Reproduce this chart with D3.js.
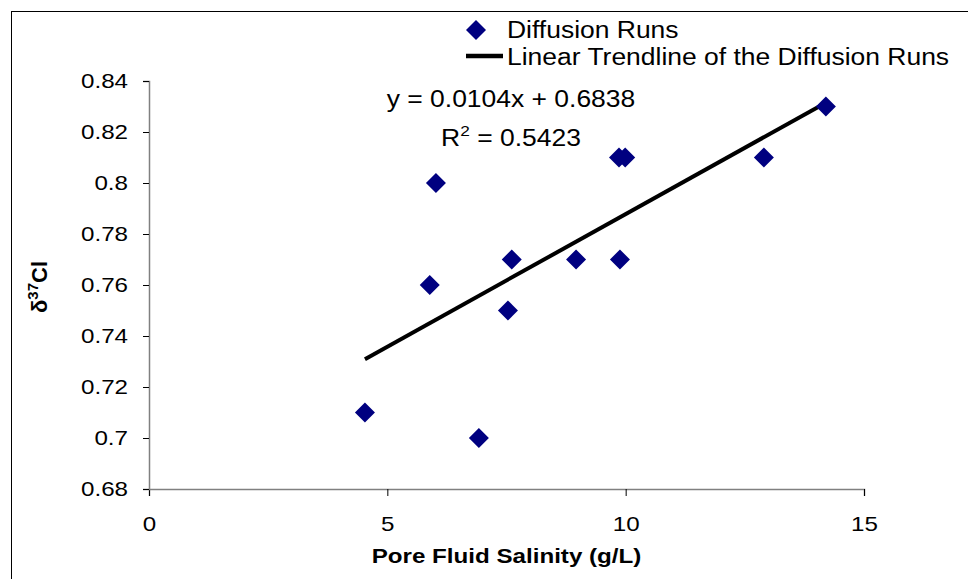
<!DOCTYPE html>
<html>
<head>
<meta charset="utf-8">
<script src="https://cdn.jsdelivr.net/npm/d3@7"></script>
<style>
  body { margin: 0; background: #fff; }
  text { font-family: "Liberation Sans", Arial, sans-serif; fill: #000; }
</style>
</head>
<body>
<div id="chart"></div>
<script>
// salinity (g/L) vs delta 37Cl, diffusion runs
const salinity = [4.53, 5.89, 6.02, 6.92, 7.53, 7.61, 8.96, 9.86, 9.99, 9.88, 12.9, 14.2];
const delta37Cl = [0.71, 0.76, 0.80, 0.70, 0.75, 0.77, 0.77, 0.81, 0.81, 0.77, 0.81, 0.83];
const xTicks = [0, 5, 10, 15];
const yTicks = [0.68, 0.70, 0.72, 0.74, 0.76, 0.78, 0.80, 0.82, 0.84];
const slope = 0.0104;
const intercept = 0.6838;
const rSquared = "0.5423";

const width = 968, height = 579;
const margin = { top: 81, right: 104, bottom: 90, left: 149 };
const stretchK = 1.15; // the original text is a bit wider than plain Arial

const svg = d3.select("#chart").append("svg")
  .attr("width", width)
  .attr("height", height);

// widen glyphs without moving the anchor point
function stretch(sel) {
  sel.each(function() {
    const w = this.getComputedTextLength();
    d3.select(this).attr("textLength", w * stretchK).attr("lengthAdjust", "spacingAndGlyphs");
  });
}

// outer frame
svg.append("rect")
  .attr("x", 11.5).attr("y", 11.5)
  .attr("width", width).attr("height", height)
  .attr("fill", "none").attr("stroke", "#000").attr("stroke-width", 1);

const x = d3.scaleLinear().domain([0, 15]).range([margin.left, width - margin.right]);
const y = d3.scaleLinear().domain([0.68, 0.84]).range([height - margin.bottom, margin.top]);

const xAxis = svg.append("g")
  .attr("transform", `translate(0, ${y(0.68)})`)
  .call(d3.axisBottom(x).tickValues(xTicks).tickSize(7).tickPadding(20).tickFormat(d3.format("d")));

const yAxis = svg.append("g")
  .attr("transform", `translate(${x(0)}, 0)`)
  .call(d3.axisLeft(y).tickValues(yTicks).tickSize(6).tickPadding(15).tickFormat(d => +d.toFixed(2)));

[xAxis, yAxis].forEach(g => {
  g.select(".domain").attr("stroke", "#808080").attr("stroke-width", 1.5);
  g.selectAll(".tick line").attr("stroke", "#000");
  g.selectAll(".tick text")
    .attr("font-size", 21)
    .attr("font-family", "Liberation Sans, Arial, sans-serif")
    .attr("fill", "#000")
    .call(stretch);
});

// trendline over the data range
const xExtent = d3.extent(salinity);
svg.append("line")
  .attr("x1", x(xExtent[0])).attr("y1", y(slope * xExtent[0] + intercept))
  .attr("x2", x(xExtent[1])).attr("y2", y(slope * xExtent[1] + intercept))
  .attr("stroke", "#000").attr("stroke-width", 4);

const diamond = d3.symbol().type(d3.symbolSquare).size(200)();

svg.selectAll(".pt")
  .data(salinity.map((s, i) => [s, delta37Cl[i]]))
  .enter()
  .append("path")
  .attr("class", "pt")
  .attr("d", diamond)
  .attr("transform", d => `translate(${x(d[0])}, ${y(d[1])}) rotate(45)`)
  .attr("fill", "#000080");

// equation labels
svg.append("text")
  .attr("x", 511).attr("y", 107)
  .attr("text-anchor", "middle")
  .attr("font-size", 23)
  .text(`y = ${slope}x + ${intercept}`)
  .call(stretch);

const r2 = svg.append("text")
  .attr("x", 511).attr("y", 146)
  .attr("text-anchor", "middle")
  .attr("font-size", 23);
r2.append("tspan").text("R");
r2.append("tspan").attr("dy", -10).attr("font-size", 15).text("2");
r2.append("tspan").attr("dy", 10).text(` = ${rSquared}`);
r2.call(stretch);

// legend
svg.append("path")
  .attr("d", diamond)
  .attr("transform", "translate(476, 30) rotate(45)")
  .attr("fill", "#000080");
svg.append("text")
  .attr("x", 507).attr("y", 38)
  .attr("font-size", 23)
  .text("Diffusion Runs")
  .call(stretch);

svg.append("line")
  .attr("x1", 466).attr("x2", 503)
  .attr("y1", 56).attr("y2", 56)
  .attr("stroke", "#000").attr("stroke-width", 4.5);
svg.append("text")
  .attr("x", 507).attr("y", 65)
  .attr("font-size", 23)
  .text("Linear Trendline of the Diffusion Runs")
  .call(stretch);

// axis titles
svg.append("text")
  .attr("x", x(7.5)).attr("y", 563)
  .attr("text-anchor", "middle")
  .attr("font-size", 21)
  .attr("font-weight", "bold")
  .text("Pore Fluid Salinity (g/L)")
  .call(stretch);

const yt = svg.append("text")
  .attr("transform", "translate(47, 287) rotate(-90)")
  .attr("text-anchor", "middle")
  .attr("font-size", 22)
  .attr("font-weight", "bold");
yt.append("tspan").text("δ");
yt.append("tspan").attr("dy", -9).attr("font-size", 15).text("37");
yt.append("tspan").attr("dy", 9).text("Cl");
</script>
</body>
</html>
